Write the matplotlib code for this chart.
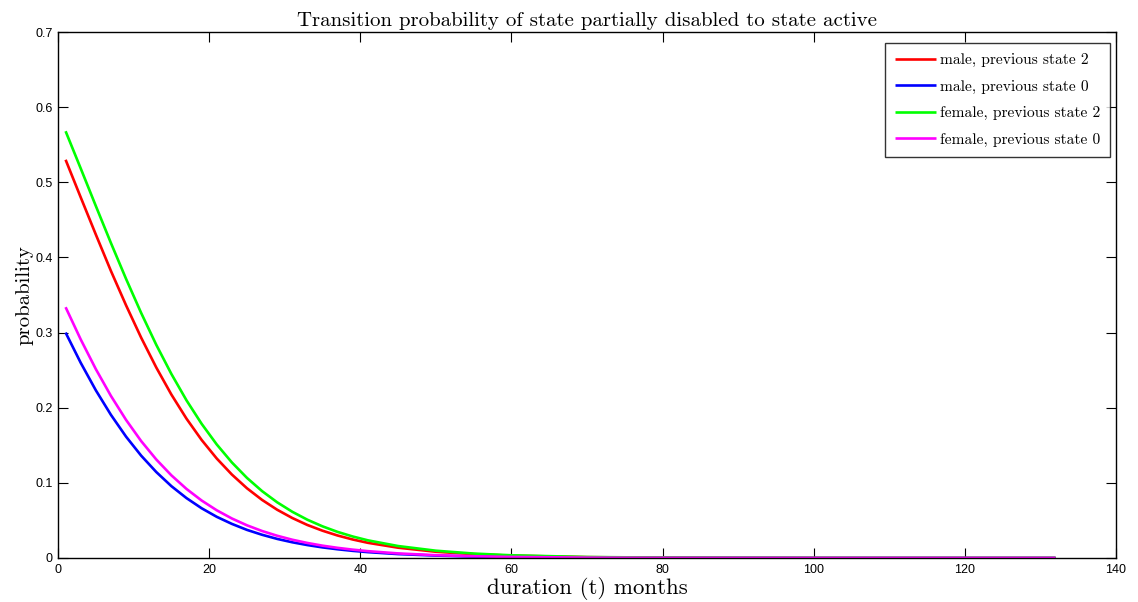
import matplotlib
matplotlib.use("Agg")
import matplotlib.pyplot as plt

# duration (months) sample points
months = [1, 3, 5, 7, 9, 11, 13, 15, 17, 19, 21, 23, 25, 27, 29, 31, 33, 35, 37, 39, 41,
          45, 50, 55, 60, 70, 80, 90, 100, 110, 120, 132]

male_prev2 = [0.530, 0.480, 0.4305, 0.382, 0.3363, 0.2932, 0.2535, 0.2175, 0.1854, 0.1571,
              0.1324, 0.1111, 0.0928, 0.0773, 0.0642, 0.0532, 0.0439, 0.0363, 0.0299, 0.0246,
              0.0202, 0.0137, 0.0083, 0.0051, 0.0031, 0.0011, 0.0004, 0.00015, 0.00005,
              0.0, 0.0, 0.0]
male_prev0 = [0.300, 0.2598, 0.2232, 0.1905, 0.1615, 0.1362, 0.1144, 0.0956, 0.0797, 0.0662,
              0.0548, 0.0454, 0.0374, 0.0309, 0.0254, 0.0209, 0.0172, 0.0141, 0.0116, 0.0095,
              0.0078, 0.0052, 0.0032, 0.0019, 0.0012, 0.0004, 0.00016, 0.00006, 0.0,
              0.0, 0.0, 0.0]
female_prev2 = [0.568, 0.5185, 0.4685, 0.4192, 0.3715, 0.3261, 0.2837, 0.2449, 0.2098, 0.1786,
                0.1511, 0.1272, 0.1066, 0.0890, 0.0741, 0.0615, 0.0509, 0.0421, 0.0347, 0.0286,
                0.0235, 0.0159, 0.0097, 0.0059, 0.0036, 0.0013, 0.0005, 0.00018, 0.00007,
                0.0, 0.0, 0.0]
female_prev0 = [0.3338, 0.2909, 0.2514, 0.2157, 0.1838, 0.1556, 0.1311, 0.1100, 0.0919, 0.0765,
                0.0635, 0.0526, 0.0435, 0.0359, 0.0296, 0.0243, 0.0200, 0.0164, 0.0135, 0.0111,
                0.0091, 0.0061, 0.0037, 0.0023, 0.0014, 0.0005, 0.0002, 0.00007, 0.0,
                0.0, 0.0, 0.0]

labels = ["male, previous state 2", "male, previous state 0",
          "female, previous state 2", "female, previous state 0"]
colors = ["#ff0000", "#0000ff", "#00ff00", "#ff00ff"]

xticks = [0, 20, 40, 60, 80, 100, 120, 140]
yticks = [0, 0.1, 0.2, 0.3, 0.4, 0.5, 0.6, 0.7]
ytick_labels = ["0", "0.1", "0.2", "0.3", "0.4", "0.5", "0.6", "0.7"]

plt.rcParams["axes.formatter.use_mathtext"] = True
serif = "cmr10"

fig = plt.figure(figsize=(11.38, 6.02), dpi=100)
ax = fig.add_axes([0.051, 0.0731, 0.9297, 0.8737])

for ys, lab, col in zip([male_prev2, male_prev0, female_prev2, female_prev0], labels, colors):
    ax.plot(months, ys, color=col, lw=1.9, label=lab,
            solid_joinstyle="round", solid_capstyle="butt")

ax.set_xlim(0, 140)
ax.set_ylim(0, 0.7)
ax.set_xticks(xticks)
ax.set_xticklabels([str(v) for v in xticks])
ax.set_yticks(yticks)
ax.set_yticklabels(ytick_labels)
ax.tick_params(direction="in", length=7.5, width=0.8, top=True, right=True,
               labelsize=9, pad=4)
for lab in ax.get_xticklabels() + ax.get_yticklabels():
    lab.set_family(["Liberation Sans", "DejaVu Sans"])
for sp in ax.spines.values():
    sp.set_linewidth(1.0)

ax.set_title("Transition probability of state partially disabled to state active",
             fontfamily=serif, fontsize=15, pad=4)
ax.set_xlabel("duration (t) months", fontfamily=serif, fontsize=16.5, labelpad=1)
ax.set_ylabel("probability", fontfamily=serif, fontsize=15, labelpad=1)

leg = ax.legend(loc="upper right", bbox_to_anchor=(0.9943, 0.979),
                prop={"family": serif, "size": 11.2},
                frameon=True, fancybox=False, edgecolor="black",
                handlelength=2.6, labelspacing=0.8, borderaxespad=0.0,
                borderpad=0.65, handletextpad=0.25)
leg.get_frame().set_linewidth(1.0)

fig.savefig("out.png", dpi=100)
